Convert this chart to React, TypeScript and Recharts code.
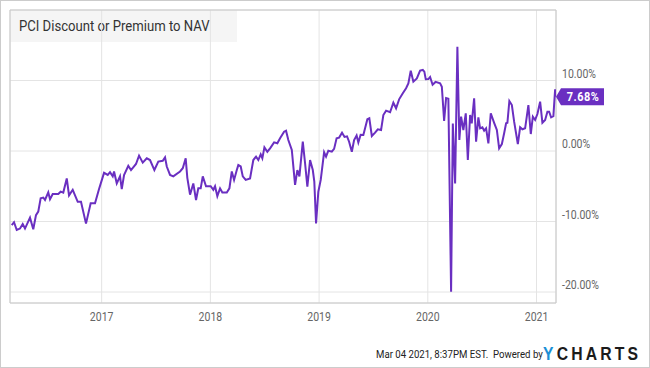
import React from 'react';
import { LineChart, Line, XAxis, YAxis, CartesianGrid, ReferenceArea, ReferenceDot } from 'recharts';

const years = [
  2016.173, 2016.194, 2016.219, 2016.249, 2016.274, 2016.295, 2016.341, 2016.371, 2016.396, 2016.417,
  2016.439, 2016.463, 2016.479, 2016.509, 2016.525, 2016.550, 2016.601, 2016.623, 2016.647, 2016.679,
  2016.700, 2016.734, 2016.780, 2016.810, 2016.856, 2016.899, 2016.939, 2016.976, 2017.022, 2017.056,
  2017.077, 2017.102, 2017.114, 2017.139, 2017.169, 2017.185, 2017.206, 2017.245, 2017.270, 2017.316,
  2017.344, 2017.378, 2017.415, 2017.445, 2017.485, 2017.521, 2017.562, 2017.583, 2017.599, 2017.629,
  2017.659, 2017.721, 2017.746, 2017.773, 2017.788, 2017.813, 2017.843, 2017.868, 2017.889, 2017.911,
  2017.930, 2017.960, 2018.003, 2018.027, 2018.043, 2018.064, 2018.089, 2018.110, 2018.151, 2018.175,
  2018.197, 2018.218, 2018.243, 2018.257, 2018.279, 2018.298, 2018.325, 2018.365, 2018.395, 2018.420,
  2018.441, 2018.463, 2018.478, 2018.497, 2018.524, 2018.549, 2018.586, 2018.616, 2018.641, 2018.678,
  2018.696, 2018.717, 2018.749, 2018.779, 2018.800, 2018.819, 2018.850, 2018.871, 2018.892, 2018.917,
  2018.942, 2018.956, 2018.972, 2018.993, 2019.015, 2019.046, 2019.064, 2019.085, 2019.117, 2019.138,
  2019.161, 2019.184, 2019.211, 2019.234, 2019.257, 2019.276, 2019.301, 2019.322, 2019.345, 2019.361,
  2019.382, 2019.407, 2019.423, 2019.444, 2019.462, 2019.485, 2019.515, 2019.540, 2019.570, 2019.591,
  2019.616, 2019.653, 2019.683, 2019.708, 2019.736, 2019.770, 2019.800, 2019.821, 2019.843, 2019.867,
  2019.899, 2019.929, 2019.954, 2019.968, 2019.981, 2020.005, 2020.021, 2020.044, 2020.071, 2020.113,
  2020.129, 2020.150, 2020.168, 2020.189, 2020.214, 2020.230, 2020.251, 2020.272, 2020.290, 2020.306,
  2020.327, 2020.349, 2020.368, 2020.389, 2020.404, 2020.426, 2020.444, 2020.465, 2020.481, 2020.502,
  2020.518, 2020.536, 2020.557, 2020.579, 2020.610, 2020.635, 2020.656, 2020.681, 2020.702, 2020.720,
  2020.732, 2020.750, 2020.773, 2020.794, 2020.828, 2020.849, 2020.870, 2020.895, 2020.925, 2020.947,
  2020.966, 2020.987, 2021.008, 2021.033, 2021.054, 2021.079, 2021.100, 2021.116, 2021.134, 2021.155,
  2021.171, 2021.179,
];

const premium = [
  -10.5, -10.1, -11.2, -11.0, -10.35, -11.0, -9.45, -11.1, -9.1, -8.6,
  -6.7, -6.6, -6.95, -5.86, -6.85, -6.1, -6.1, -5.77, -5.9, -3.9,
  -6.3, -5.5, -7.2, -7.2, -10.3, -7.4, -7.4, -5.4, -3.1, -3.4,
  -3.0, -3.6, -2.9, -4.6, -3.6, -5.4, -3.4, -2.1, -2.7, -1.84,
  -0.66, -1.65, -1.04, -1.28, -2.7, -1.5, -1.38, -0.9, -2.2, -3.4,
  -3.6, -2.9, -2.45, -1.04, -3.8, -6.2, -4.6, -6.95, -5.3, -5.3,
  -3.6, -5.0, -5.0, -5.5, -5.0, -6.4, -5.3, -5.9, -5.9, -5.3,
  -2.9, -4.1, -2.7, -2.0, -2.2, -3.6, -4.1, -3.9, -1.28, -0.8,
  -1.28, -0.47, -1.04, 0.52, -0.1, 0.38, 1.23, 1.09, 1.8, 2.74,
  2.88, 1.56, 0.14, -4.8, -2.7, -3.6, 1.32, -1.74, -5.06, -1.28,
  -2.7, -4.35, -10.26, -5.77, -4.1, -0.18, -0.8, 0.04, -0.1, 0.3,
  1.8, 1.9, 2.6, 2.0, 2.08, 1.32, -0.1, 1.56, 2.2, 1.2,
  2.3, 2.27, 3.22, 4.5, 4.64, 2.13, 2.6, 3.08, 2.98, 5.1,
  5.72, 5.49, 6.85, 6.06, 7.33, 8.18, 8.9, 9.6, 11.39, 9.83,
  10.3, 11.4, 11.5, 11.25, 10.17, 10.2, 10.5, 9.4, 9.8, 9.6,
  9.12, 4.26, 7.5, 7.4, -19.96, 3.9, -4.6, 14.8, 1.56, 4.87,
  2.98, 5.35, -1.28, 5.1, 3.93, 7.48, 1.32, 4.78, 3.22, 3.36,
  2.88, 3.22, 1.09, 5.35, 4.0, 2.98, 0.38, 0.99, 2.51, 3.93,
  4.0, 7.09, 6.52, 4.16, 0.99, 3.36, 3.08, 3.22, 6.52, 2.41,
  4.87, 4.4, 5.25, 6.99, 4.0, 4.4, 5.57, 5.57, 4.78, 4.96,
  8.75, 7.68,
];

const xTicks = [2017, 2018, 2019, 2020, 2021];
const yTicks = [-20, -10, 0, 10];
const xDomain = [2016.157, 2021.179];
const yDomain = [-21.56, 20];
const titleText = 'PCI Discount or Premium to NAV';
const lastLabel = '7.68%';
const footerText = 'Mar 04 2021, 8:37PM EST.';
const poweredText = 'Powered by';

const PURPLE = '#6a2fc1';
const FONT = 'Roboto, "Noto Sans", sans-serif';
const SQUEEZE = 0.875;

const data = years.map((t, i) => ({ t, v: premium[i] }));

const YTick = (props: any) => {
  const { x, y, payload } = props;
  return (
    <text
      transform={`translate(${x},${y - 6.5}) scale(${SQUEEZE},1)`}
      fill="#666"
      fontSize={12}
      fontFamily={FONT}
      textAnchor="start"
      dominantBaseline="central"
    >
      {`${Number(payload.value).toFixed(2)}%`}
    </text>
  );
};

const XTick = (props: any) => {
  const { x, y, payload } = props;
  return (
    <text
      transform={`translate(${x},${y}) scale(${SQUEEZE},1)`}
      fill="#666"
      fontSize={12}
      fontFamily={FONT}
      textAnchor="middle"
      dy="0.71em"
    >
      {String(payload.value)}
    </text>
  );
};

const EndLabel = (props: any) => {
  const { cx, cy } = props;
  if (cx == null || cy == null) return null;
  const h = 8.5;
  const pts = `${cx},${cy} ${cx + 5},${cy - h} ${cx + 48},${cy - h} ${cx + 48},${cy + h} ${cx + 5},${cy + h}`;
  return (
    <g>
      <polygon points={pts} fill={PURPLE} />
      <text
        transform={`translate(${cx + 27},${cy}) scale(${SQUEEZE},1)`}
        fill="#fff"
        fontSize={12.5}
        fontWeight="bold"
        fontFamily={FONT}
        textAnchor="middle"
        dominantBaseline="central"
        letterSpacing={0.6}
      >
        {lastLabel}
      </text>
    </g>
  );
};

export default function App() {
  return (
    <div style={{ position: 'fixed', left: 0, top: 0, width: 650, height: 368, background: '#fff', overflow: 'hidden' }}>
      <svg width={650} height={368} style={{ position: 'absolute', left: 0, top: 0 }}>
        <rect x={10} y={10} width={227} height={32} fill="#f5f5f5" />
        <text
          transform={`translate(19,31) scale(${SQUEEZE},1)`}
          fontSize={15}
          fontFamily={FONT}
          fill="#333"
        >
          {titleText}
        </text>
        <text
          transform={`translate(376,358.3) scale(${SQUEEZE},1)`}
          fontSize={11}
          fontFamily={FONT}
          fill="#222"
        >
          {footerText}
        </text>
        <text
          transform={`translate(493,358.3) scale(${SQUEEZE},1)`}
          fontSize={11}
          fontFamily={FONT}
          fill="#222"
        >
          {poweredText}
        </text>
        <text
          transform={`translate(543,360) scale(${SQUEEZE},1)`}
          fontSize={18}
          fontWeight="bold"
          fontFamily='"Liberation Sans", Arial, sans-serif'
          letterSpacing={3.6}
        >
          <tspan fill="#1a8fd6">Y</tspan>
          <tspan fill="#1b1b1b">CHARTS</tspan>
        </text>
      </svg>
      <div style={{ position: 'absolute', left: 0, top: 0 }}>
        <LineChart width={650} height={368} data={data} margin={{ top: 10, right: 0, bottom: 0, left: 10 }}>
          <CartesianGrid stroke="#e4e4e4" strokeWidth={1} />
          <XAxis
            type="number"
            dataKey="t"
            domain={xDomain}
            ticks={xTicks}
            allowDataOverflow
            height={65}
            axisLine={false}
            tickLine={false}
            tickSize={0}
            tickMargin={9}
            tick={<XTick />}
            interval={0}
          />
          <YAxis
            orientation="right"
            type="number"
            domain={yDomain}
            ticks={yTicks}
            allowDataOverflow
            width={94}
            axisLine={false}
            tickLine={false}
            tickSize={0}
            tickMargin={6}
            tick={<YTick />}
            interval={0}
          />
          <ReferenceArea
            x1={xDomain[0]}
            x2={xDomain[1]}
            y1={yDomain[0]}
            y2={yDomain[1]}
            fill="none"
            stroke="#c8c8c8"
            strokeWidth={1}
            ifOverflow="visible"
          />
          <Line
            type="linear"
            dataKey="v"
            stroke={PURPLE}
            strokeWidth={2}
            dot={false}
            isAnimationActive={false}
          />
          <ReferenceDot
            x={years[years.length - 1]}
            y={premium[premium.length - 1]}
            r={0}
            ifOverflow="visible"
            shape={<EndLabel />}
          />
        </LineChart>
      </div>
      <div
        style={{
          position: 'absolute',
          left: 0,
          top: 0,
          width: 650,
          height: 368,
          boxSizing: 'border-box',
          border: '1px solid #cccccc',
          pointerEvents: 'none',
        }}
      />
    </div>
  );
}
